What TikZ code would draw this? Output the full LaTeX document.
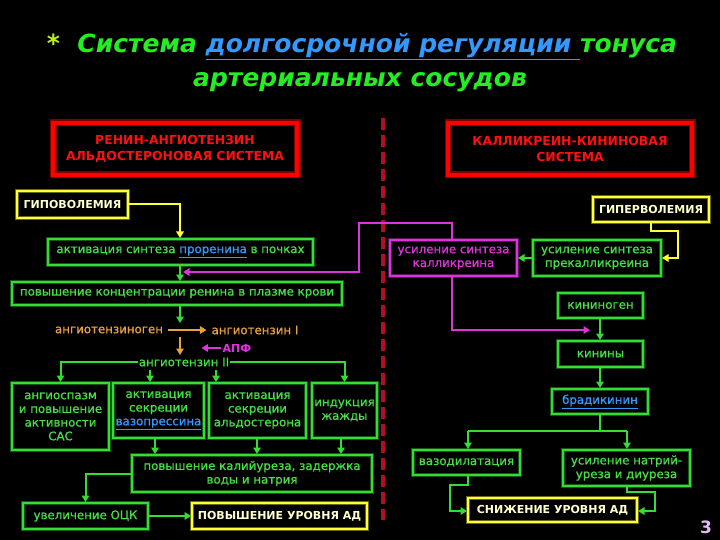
\documentclass[tikz,border=0pt]{standalone}
\usepackage{fontspec}
\setmainfont{DejaVu Sans}
\newfontfamily\medfont[FakeBold=0.9]{DejaVu Sans}
\usetikzlibrary{arrows.meta}
\definecolor{gline}{HTML}{33DD33}
\definecolor{gtext}{HTML}{44E044}
\definecolor{yline}{HTML}{FFFF33}
\definecolor{ytext}{HTML}{FFFFCC}
\definecolor{mline}{HTML}{DD33DD}
\definecolor{rline}{HTML}{FF0000}
\definecolor{rtext}{HTML}{FF1010}
\definecolor{orng}{HTML}{E8A040}
\definecolor{lnk}{HTML}{3399FF}
\definecolor{tgreen}{HTML}{22EE22}
\definecolor{tstar}{HTML}{BBEE22}
\definecolor{dashred}{HTML}{B01020}
\definecolor{pgnum}{HTML}{E8B8F8}
\newcommand\gfont{\medfont\fontsize{11.8}{13.7}\selectfont}
\newcommand\capfont{\fontsize{11}{13.5}\selectfont\bfseries}
\newcommand\redfont{\fontsize{12.4}{16}\selectfont\bfseries}
\newcommand\titfont{\fontsize{25}{30}\selectfont\bfseries\itshape}
\newcommand\lk[1]{\textcolor{lnk}{\underline{#1}}}
\begin{document}
\begin{tikzpicture}[x=1pt,y=-1pt,
  gbox/.style={draw=gline, line width=2pt, preaction={draw=gline!40!black, line width=4.5pt},
     text=gtext, inner sep=0pt, align=center, font=\gfont},
  mbox/.style={gbox, draw=mline, preaction={draw=mline!40!black, line width=4.5pt}, text=mline},
  ybox/.style={draw=yline, line width=2pt, preaction={draw=yline!40!black, line width=4.5pt},
     text=ytext, inner sep=0pt, align=center, font=\capfont},
  rbox/.style={draw=rline, line width=4pt, preaction={draw=rline!50!black, line width=7pt},
     text=rtext, inner sep=0pt, align=center, font=\redfont},
  lbl/.style={inner sep=1pt, font=\gfont},
  arr/.style={-{Triangle[length=6.5pt,width=7.5pt]}, line width=2pt},
  ln/.style={line width=2pt}]
\fill[black] (0,0) rectangle (720,540);
\useasboundingbox (0,0) rectangle (720,540);

% title
\node[font=\titfont, text=tgreen, inner sep=0] (t1) at (362,47)
  {\textcolor{tstar}{*}\ \ Система \textcolor{lnk}{\underline{долгосрочной регуляции }}тонуса};
\node[font=\titfont, text=tgreen, inner sep=0] (t2) at (360,82) {артериальных сосудов};

% dashed divider
\coordinate (d1) at (383,118);
\coordinate (d2) at (383,520);
\draw[dashred, line width=3.5pt, dash pattern=on 12pt off 5pt] (d1) -- (d2);

% red headers
\node[rbox, minimum width=244pt, minimum height=52pt] (ras) at (175,149)
  {РЕНИН-АНГИОТЕНЗИН\\АЛЬДОСТЕРОНОВАЯ СИСТЕМА};
\node[rbox, minimum width=244pt, minimum height=52pt] (kks) at (570,149)
  {КАЛЛИКРЕИН-КИНИНОВАЯ\\СИСТЕМА};

% left side
\node[ybox, minimum width=111pt, minimum height=27pt] (hypo) at (72.5,204.5) {ГИПОВОЛЕМИЯ};
\node[gbox, minimum width=265pt, minimum height=26pt] (act) at (180.5,252)
  {активация синтеза \lk{проренина} в почках};
\node[gbox, minimum width=330pt, minimum height=23pt] (ren) at (177,293.5)
  {повышение концентрации ренина в плазме крови};
\node[lbl, text=orng] (agen) at (109,330) {ангиотензиноген};
\node[lbl, text=orng] (a1) at (255,330) {ангиотензин I};
\node[lbl, text=mline, font=\capfont] (apf) at (237,348) {АПФ};
\node[lbl, text=gtext] (a2) at (184,362) {ангиотензин II};
\coordinate (aup) at (180,337);
\coordinate (adn) at (180,355);

\node[gbox, minimum width=97pt, minimum height=67pt] (b1) at (60.5,416.5)
  {ангиоспазм\\и повышение\\активности\\САС};
\node[gbox, minimum width=91pt, minimum height=55pt] (b2) at (158.5,410.5)
  {активация\\секреции\\\lk{вазопрессина}};
\node[gbox, minimum width=97pt, minimum height=55pt] (b3) at (257.5,410.5)
  {активация\\секреции\\альдостерона};
\node[gbox, minimum width=65pt, minimum height=55pt] (b4) at (344.5,410.5)
  {индукция\\жажды};
\node[gbox, minimum width=240pt, minimum height=37pt] (kal) at (252,473.5)
  {повышение калийуреза, задержка\\воды и натрия};
\node[gbox, minimum width=125pt, minimum height=26pt] (ock) at (85.5,516) {увеличение ОЦК};
\node[ybox, minimum width=175pt, minimum height=26pt] (up) at (279.5,516) {ПОВЫШЕНИЕ УРОВНЯ АД};

% right side
\node[ybox, minimum width=116pt, minimum height=25pt] (hyper) at (651,209.5) {ГИПЕРВОЛЕМИЯ};
\node[gbox, minimum width=128pt, minimum height=36pt] (prek) at (597,258)
  {усиление синтеза\\прекалликреина};
\node[mbox, minimum width=127pt, minimum height=36pt] (klk) at (453.5,258)
  {усиление синтеза\\калликреина};
\node[gbox, minimum width=85pt, minimum height=25pt] (kgen) at (600.5,305.5) {кининоген};
\node[gbox, minimum width=85pt, minimum height=26pt] (kin) at (600.5,354) {кинины};
\node[gbox, minimum width=96pt, minimum height=25pt] (brad) at (600,401.5) {\lk{брадикинин}};
\node[gbox, minimum width=107pt, minimum height=25pt] (vaso) at (466.5,462.5) {вазодилатация};
\node[gbox, minimum width=127pt, minimum height=36pt] (natr) at (626.5,468)
  {усиление натрий-\\уреза и диуреза};
\node[ybox, minimum width=169pt, minimum height=24pt] (down) at (552.5,510) {СНИЖЕНИЕ УРОВНЯ АД};
\node[font=\fontsize{17}{20}\selectfont\bfseries, text=pgnum, inner sep=0] (num) at (706,527) {3};

% ---- connectors, left
\draw[arr, yline] (hypo.east) -| (act.north -| 180,0);
\draw[arr, gline] (act.south -| 180,0) -- (ren.north -| 180,0);
\draw[arr, gline] (ren.south -| 180,0) -- (180,323);
\draw[arr, orng] (agen.east) ++(4,0) -- ([xshift=-4pt]a1.west);
\draw[arr, orng] (aup) -- (adn);
\draw[arr, mline] (apf.west) -- ++(-20,0);
\draw[arr, gline] (a2.west) -| (b1.north);
\draw[arr, gline] (a2.east) -| (b4.north);
\draw[arr, gline] (150,370) -- (b2.north -| 150,0);
\draw[arr, gline] (216,370) -- (b3.north -| 216,0);
\draw[arr, gline] (b2.south -| 155,0) -- (kal.north -| 155,0);
\draw[arr, gline] (b3.south -| 257,0) -- (kal.north -| 257,0);
\draw[arr, gline] (b4.south -| 341,0) -- (kal.north -| 341,0);
\draw[arr, gline] (kal.west) -| (ock.north);
\draw[arr, gline] (ock.east) -- (up.west);

% ---- connectors, right
\coordinate (mend) at (183,272);
\draw[arr, mline] (klk.north -| 452,0) -- (452,223) -- (359,223) -- (359,272) -- (mend);
\coordinate (mend2) at (590,330);
\draw[arr, mline] (klk.south -| 452,0) -- (452,330) -- (mend2);
\draw[arr, yline] (hyper.south) -- ++(0,8) -| (678,258) -- (prek.east);
\draw[arr, gline] (prek.west) -- (klk.east);
\draw[arr, gline] (kgen.south -| 600,0) -- (kin.north -| 600,0);
\draw[arr, gline] (kin.south -| 600,0) -- (brad.north -| 600,0);
\draw[ln, gline] (brad.south) -- (600,431);
\draw[ln, gline] (468,431) -- (627,431);
\draw[arr, gline] (468,431) -- (vaso.north -| 468,0);
\draw[arr, gline] (627,431) -- (natr.north -| 627,0);
\draw[arr, gline] (vaso.south -| 468,0) -- (468,485) -- (450,485) -- (450,511) -- (down.west |- 0,511);
\draw[arr, gline] (natr.south -| 627,0) -- (627,492) -- (655,492) -- (655,511) -- (down.east |- 0,511);
\end{tikzpicture}
\end{document}
